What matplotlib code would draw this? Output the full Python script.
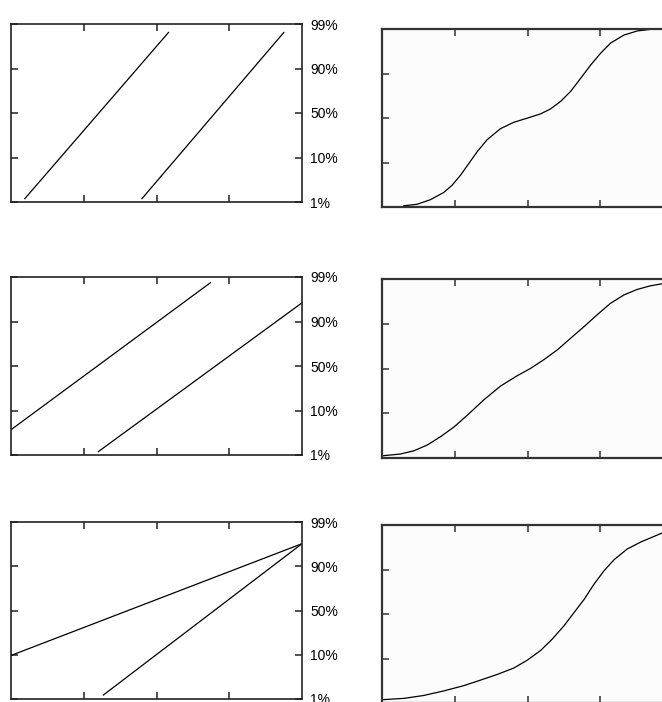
import matplotlib
matplotlib.use("Agg")
import matplotlib.pyplot as plt

W, H = 662, 702

# Probability-paper axis labels (equal spacing on the probit scale panels)
prob_labels = ["1%", "10%", "50%", "90%", "99%"]
prob_positions = [0, 1, 2, 3, 4]

# Left column: straight lines on probability paper (x, probit-position)
row1_a_x = [0.19, 2.165]
row1_a_y = [0.075, 3.81]
row1_b_x = [1.80, 3.75]
row1_b_y = [0.075, 3.81]

row2_a_x = [0.01, 2.74]
row2_a_y = [0.58, 3.87]
row2_b_x = [1.20, 4.00]
row2_b_y = [0.075, 3.42]

row3_a_x = [0.01, 4.00]
row3_a_y = [0.99, 3.51]
row3_b_x = [1.27, 4.00]
row3_b_y = [0.09, 3.51]

# Right column: cumulative curves on a linear scale
cdf1_x = [0.30, 0.48, 0.665, 0.85, 0.963, 1.078, 1.193, 1.307, 1.445, 1.628,
          1.812, 1.995, 2.179, 2.317, 2.454, 2.592, 2.729, 2.867, 3.005, 3.142,
          3.326, 3.509, 3.693, 3.858]
cdf1_y = [0.007, 0.015, 0.041, 0.082, 0.122, 0.178, 0.244, 0.310, 0.378, 0.440,
          0.476, 0.499, 0.523, 0.551, 0.593, 0.649, 0.722, 0.797, 0.864, 0.921,
          0.966, 0.989, 0.998, 1.0]

cdf2_x = [0.02, 0.25, 0.436, 0.62, 0.80, 0.986, 1.17, 1.40, 1.63, 1.86, 2.04,
          2.22, 2.41, 2.59, 2.78, 2.96, 3.14, 3.33, 3.51, 3.69, 3.86]
cdf2_y = [0.013, 0.022, 0.040, 0.072, 0.118, 0.172, 0.238, 0.325, 0.402, 0.460,
          0.500, 0.548, 0.604, 0.668, 0.735, 0.801, 0.864, 0.912, 0.942, 0.962,
          0.974]

cdf3_x = [0.02, 0.30, 0.57, 0.85, 1.12, 1.35, 1.58, 1.81, 1.995, 2.18, 2.34,
          2.50, 2.64, 2.78, 2.91, 3.05, 3.19, 3.37, 3.56, 3.74, 3.86]
cdf3_y = [0.019, 0.026, 0.042, 0.068, 0.097, 0.128, 0.160, 0.196, 0.240, 0.295,
          0.359, 0.433, 0.508, 0.583, 0.665, 0.742, 0.805, 0.865, 0.905, 0.936,
          0.957]

left_rows = [
    ((row1_a_x, row1_a_y), (row1_b_x, row1_b_y)),
    ((row2_a_x, row2_a_y), (row2_b_x, row2_b_y)),
    ((row3_a_x, row3_a_y), (row3_b_x, row3_b_y)),
]
right_rows = [(cdf1_x, cdf1_y), (cdf2_x, cdf2_y), (cdf3_x, cdf3_y)]

# Panel boxes in pixels: (left, top, right, bottom)
left_boxes = [(11, 24, 302, 202), (11, 277, 302, 455), (11, 522, 302, 699)]
right_boxes = [(382, 29, 673, 207), (382, 279, 673, 458), (382, 525, 673, 703)]


def rect(box):
    l, t, r, b = box
    return [l / W, 1 - b / H, (r - l) / W, (b - t) / H]


fig = plt.figure(figsize=(W / 100, H / 100), dpi=100)
fig.patch.set_facecolor("white")

for box, lines in zip(left_boxes, left_rows):
    ax = fig.add_axes(rect(box))
    for xs, ys in lines:
        ax.plot(xs, ys, color="black", lw=0.9)
    ax.set_xlim(0, 4)
    ax.set_ylim(0, 4)
    ax.set_xticks([1, 2, 3])
    ax.set_xticklabels([])
    ax.set_yticks(prob_positions)
    ax.set_yticklabels(prob_labels, family="Liberation Sans", fontsize=10)
    ax.tick_params(axis="both", direction="in", length=5, width=1.1,
                   color="#222222", top=True, bottom=True, left=True, right=True,
                   labelleft=False, labelright=True, labelbottom=False, pad=6)
    for s in ax.spines.values():
        s.set_linewidth(1.2)
        s.set_color("#222222")

for box, (xs, ys) in zip(right_boxes, right_rows):
    ax = fig.add_axes(rect(box))
    ax.set_facecolor("#fcfcfc")
    ax.plot(xs, ys, color="black", lw=0.9)
    ax.set_xlim(0, 4)
    ax.set_ylim(0, 1)
    ax.set_xticks([1, 2, 3])
    ax.set_yticks([0.25, 0.5, 0.75])
    ax.tick_params(axis="both", direction="in", length=5, width=1.1,
                   color="#333333", top=True, bottom=True, left=True, right=True,
                   labelleft=False, labelbottom=False)
    for s in ax.spines.values():
        s.set_linewidth(1.6)
        s.set_color("#333333")

fig.savefig("out.png", dpi=100)
